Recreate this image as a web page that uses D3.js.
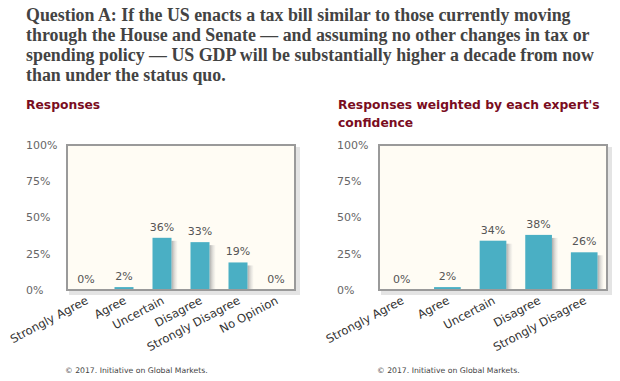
<!DOCTYPE html>
<html>
<head>
<meta charset="utf-8">
<script src="https://cdn.jsdelivr.net/npm/d3@7"></script>
<style>
  html, body { margin: 0; padding: 0; background: #fff; }
  svg { display: block; }
</style>
</head>
<body>
<svg id="chart" width="620" height="381"></svg>
<script>
// ---- DATA ----
const titleLines = [
  "Question A: If the US enacts a tax bill similar to those currently moving",
  "through the House and Senate \u2014 and assuming no other changes in tax or",
  "spending policy \u2014 US GDP will be substantially higher a decade from now",
  "than under the status quo."
];
const leftTitle = ["Responses"];
const rightTitle = ["Responses weighted by each expert's", "confidence"];
const leftCategories = ["Strongly Agree", "Agree", "Uncertain", "Disagree", "Strongly Disagree", "No Opinion"];
const leftValues = [0, 2, 36, 33, 19, 0];
const rightCategories = ["Strongly Agree", "Agree", "Uncertain", "Disagree", "Strongly Disagree"];
const rightValues = [0, 2, 34, 38, 26];
const yTicks = [0, 25, 50, 75, 100];
const footer = "\u00a9 2017. Initiative on Global Markets.";

// ---- DRAW ----
const svg = d3.select("#chart");
svg.append("rect").attr("width", 620).attr("height", 381).attr("fill", "#fff");

const defs = svg.append("defs");
const grad = defs.append("linearGradient").attr("id", "barShadow").attr("x1", "0").attr("x2", "1").attr("y1", "0").attr("y2", "0");
grad.append("stop").attr("offset", "0").attr("stop-color", "#8f8f8f").attr("stop-opacity", 0.75);
grad.append("stop").attr("offset", "1").attr("stop-color", "#cfcfcf").attr("stop-opacity", 0.1);

function fitText(sel, targetWidth, baseSize) {
  sel.attr("font-size", baseSize);
  const w = sel.node().getComputedTextLength();
  const s = baseSize * targetWidth / w;
  sel.attr("font-size", s);
  return s;
}

// Title
const titleG = svg.append("g");
const titleFont = "'Liberation Serif', 'DejaVu Serif', serif";
const t0 = titleG.append("text").attr("x", 26).attr("y", 20.5)
  .attr("font-family", titleFont).attr("font-weight", "bold").attr("fill", "#434343")
  .text(titleLines[0]);
const tSize = fitText(t0, 545, 17);
titleLines.slice(1).forEach((line, i) => {
  titleG.append("text").attr("x", 26).attr("y", 20.5 + (i + 1) * 20.3)
    .attr("font-family", titleFont).attr("font-weight", "bold").attr("fill", "#434343")
    .attr("font-size", tSize).text(line);
});

const sans = "'DejaVu Sans', Verdana, sans-serif";

function drawPanel(opts) {
  const { x0, x1, yTop, yBot, labelX, cats, vals, titleLinesP, titleX, padding, footerX } = opts;
  const g = svg.append("g");

  // panel title
  titleLinesP.forEach((line, i) => {
    g.append("text").attr("class", "ptitle").attr("x", titleX).attr("y", 108.5 + i * 18)
      .attr("font-family", sans).attr("font-weight", "bold").attr("fill", "#7a0c1e")
      .attr("font-size", opts.subSize).text(line);
  });

  const x = d3.scaleBand().domain(cats).range([x0, x1]).paddingInner(padding).paddingOuter(padding / 2);
  const y = d3.scaleLinear().domain([0, 100]).range([yBot, yTop]);

  // plot box shadow + box
  g.append("rect").attr("x", x0 + 2).attr("y", yTop + 2).attr("width", x1 - x0 + 3).attr("height", yBot - yTop + 3)
    .attr("fill", "#e4e4e4");
  g.append("rect").attr("x", x0).attr("y", yTop).attr("width", x1 - x0).attr("height", yBot - yTop)
    .attr("fill", "#fffcf4").attr("stroke", "#9a9a9a").attr("stroke-width", 2);

  // y labels
  g.selectAll("text.ytick").data(yTicks).join("text").attr("class", "ytick")
    .attr("x", labelX).attr("y", d => y(d)).attr("dy", "0.35em")
    .attr("font-family", sans).attr("font-size", 11).attr("fill", "#666")
    .text(d => d + "%");

  // bar shadows
  g.selectAll("rect.shadow").data(vals.map((v, i) => ({ c: cats[i], v }))).join("rect").attr("class", "shadow")
    .attr("x", d => x(d.c) + x.bandwidth())
    .attr("y", d => Math.min(y(d.v) + 3, yBot))
    .attr("width", 6)
    .attr("height", d => Math.max(0, yBot - y(d.v) - 3))
    .attr("fill", "url(#barShadow)");

  // bars
  g.selectAll("rect.bar").data(vals.map((v, i) => ({ c: cats[i], v }))).join("rect").attr("class", "bar")
    .attr("x", d => x(d.c)).attr("y", d => y(d.v))
    .attr("width", x.bandwidth()).attr("height", d => yBot - y(d.v))
    .attr("fill", "#4aafc4");

  // bottom border redraw
  g.append("line").attr("x1", x0).attr("x2", x1).attr("y1", yBot).attr("y2", yBot)
    .attr("stroke", "#9a9a9a").attr("stroke-width", 2);

  // value labels
  g.selectAll("text.val").data(vals.map((v, i) => ({ c: cats[i], v }))).join("text").attr("class", "val")
    .attr("x", d => x(d.c) + x.bandwidth() / 2).attr("y", d => y(d.v) - 7)
    .attr("text-anchor", "middle").attr("font-family", sans).attr("font-size", 11).attr("fill", "#555")
    .text(d => d.v + "%");

  // x labels
  g.selectAll("text.xl").data(cats).join("text").attr("class", "xl")
    .attr("transform", d => `translate(${x(d) + x.bandwidth() / 2 + 3},${yBot + 13}) rotate(-28)`)
    .attr("text-anchor", "end").attr("font-family", sans).attr("font-size", 11.6).attr("fill", "#333")
    .text(d => d);

  // footer
  const f = g.append("text").attr("x", footerX).attr("y", 372.5)
    .attr("font-family", sans).attr("fill", "#444").text(footer);
  fitText(f, 143, 8);
}

// determine subtitle font size from right title first line width
const probe = svg.append("text").attr("font-family", sans).attr("font-weight", "bold").text(rightTitle[0]);
const subSize = fitText(probe, 262, 12);
probe.remove();

drawPanel({ x0: 67, x1: 295, yTop: 145, yBot: 290, labelX: 26, cats: leftCategories, vals: leftValues,
  titleLinesP: leftTitle, titleX: 26, padding: 0.5, footerX: 65, subSize });
drawPanel({ x0: 379, x1: 607, yTop: 145, yBot: 290, labelX: 337, cats: rightCategories, vals: rightValues,
  titleLinesP: rightTitle, titleX: 338, padding: 0.415, footerX: 377, subSize });
</script>
</body>
</html>
